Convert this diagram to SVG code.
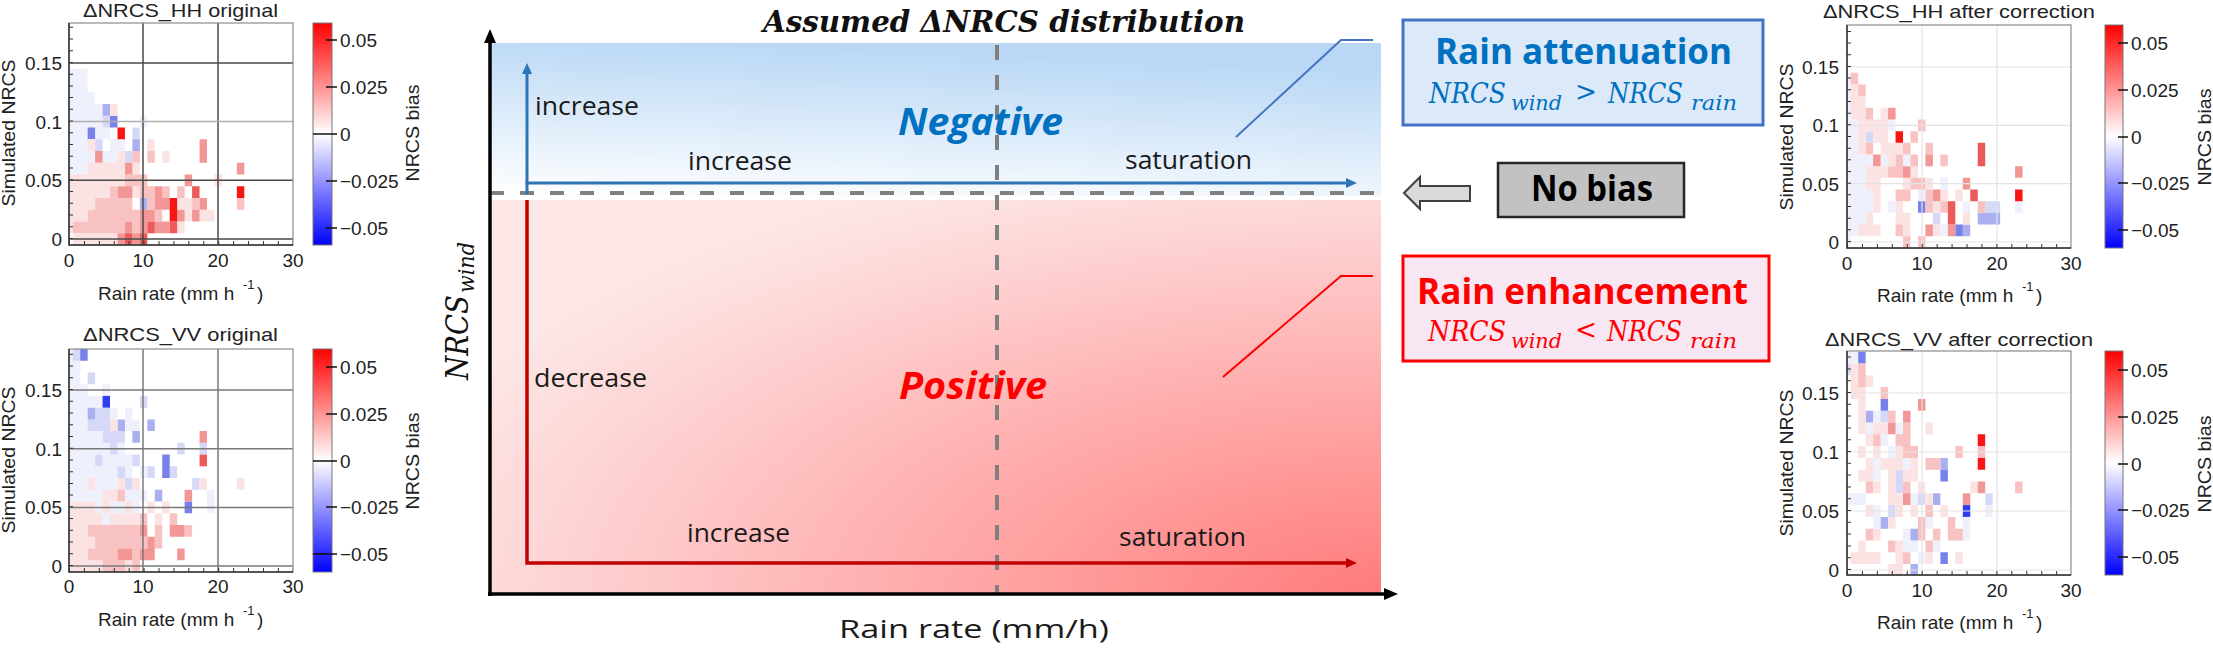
<svg xmlns="http://www.w3.org/2000/svg" width="2213" height="648" viewBox="0 0 2213 648">
<style>
.ax{font-family:"Liberation Sans",Arial,sans-serif;font-size:19px;fill:#222}
.mid{text-anchor:middle}
.end{text-anchor:end}
.r1{fill:#fce3e3}.r2{fill:#f9c2c2}.r3{fill:#f39696}.r4{fill:#ec5a5a}.r5{fill:#fa1515}
.b1{fill:#eef0fc}.b2{fill:#d5d9f7}.b3{fill:#a9afef}.b4{fill:#7880ea}.b5{fill:#2f3cf0}
.gd{stroke:#4a4a4a;stroke-width:1.5;fill:none}
.gm{stroke:#7a7a7a;stroke-width:1.5;fill:none}
.gl{stroke:#b0b0b0;stroke-width:1.5;fill:none}
.gx{stroke:#e3e3e3;stroke-width:1.2;fill:none}
.frame{fill:none;stroke:#8c8c8c;stroke-width:1.2}
.axl{stroke:#333;stroke-width:1.5;fill:none}
.tk{stroke:#333;fill:none;stroke-width:4}
.cb{stroke:#777;stroke-width:1;fill:url(#cbar)}
.cbt{stroke:#111;stroke-width:1.5;fill:none}
.lbl{font-family:"Open Sans","Noto Sans",sans-serif;font-size:26px;fill:#1a1a1a}
.big{font-family:"Open Sans","Noto Sans",sans-serif;font-weight:bold;font-style:italic;font-size:38px}
.math{font-family:"DejaVu Serif","Liberation Serif",serif;font-style:italic}
.head{font-family:"Open Sans","Noto Sans",sans-serif;font-weight:bold;font-size:36px}
.axis{stroke:#000;stroke-width:3.5;fill:none}
.dash{stroke:#808080;stroke-width:4;fill:none}
</style>
<defs>
<marker id="mBlack" markerUnits="userSpaceOnUse" viewBox="0 0 14 12" refX="1" refY="6" markerWidth="14" markerHeight="12" orient="auto"><path d="M0 0L14 6L0 12z" fill="#000"/></marker>
<marker id="mBlue" markerUnits="userSpaceOnUse" viewBox="0 0 11 10" refX="1" refY="5" markerWidth="11" markerHeight="10" orient="auto"><path d="M0 0L11 5L0 10z" fill="#2e75b6"/></marker>
<marker id="mRed" markerUnits="userSpaceOnUse" viewBox="0 0 11 10" refX="1" refY="5" markerWidth="11" markerHeight="10" orient="auto"><path d="M0 0L11 5L0 10z" fill="#c00000"/></marker>
<linearGradient id="cbar" x1="0" y1="0" x2="0" y2="1"><stop offset="0" stop-color="#ff0000"/><stop offset="0.5" stop-color="#ffffff"/><stop offset="1" stop-color="#0000ff"/></linearGradient>
<linearGradient id="gBlue" x1="0" y1="1" x2="0.25" y2="0"><stop offset="0" stop-color="#ffffff"/><stop offset="1" stop-color="#bad8f5"/></linearGradient>
<radialGradient id="gRed" cx="1" cy="1" r="1.15" fx="1" fy="1"><stop offset="0" stop-color="#ff7b7b"/><stop offset="0.45" stop-color="#ffabab"/><stop offset="0.85" stop-color="#fdd8d8"/><stop offset="1" stop-color="#fde6e6"/></radialGradient>
<clipPath id="cp1"><rect x="69" y="23" width="224" height="222"/></clipPath>
<clipPath id="cp2"><rect x="69" y="349" width="224" height="223"/></clipPath>
<clipPath id="cp3"><rect x="1847" y="25" width="224" height="223"/></clipPath>
<clipPath id="cp4"><rect x="1847" y="351" width="224" height="224"/></clipPath>
</defs>
<rect width="2213" height="648" fill="#fff"/>

<g id="hh-original">
<g clip-path="url(#cp1)"><g transform="translate(65.27 244.87) scale(7.46 -11.74)">
<path class="b1" d="M0 14h3v1h-3zM0 13h3v1h-3zM0 12h4v1h-4zM0 11h5v1h-5zM0 10h5v1h-5zM10 10h1v1h-1zM0 9h3v1h-3zM4 9h2v1h-2zM0 8h3v1h-3zM6 8h2v1h-2zM0 7h4v1h-4zM5 7h2v1h-2zM0 6h3v1h-3z"/>
<path class="b2" d="M5 10h1v1h-1zM4 8h1v1h-1zM8 7h1v1h-1zM9 9h1v1h-1z"/>
<path class="b3" d="M5 11h1v1h-1zM9 8h1v1h-1zM10 3h1v1h-1z"/>
<path class="b4" d="M6 10h1v1h-1zM3 9h1v1h-1z"/>
<path class="r1" d="M6 11h1v1h-1zM3 8h1v1h-1zM11 8h1v1h-1zM7 7h1v1h-1zM13 7h1v1h-1zM3 6h5v1h-5zM9 6h1v1h-1zM0 5h8v1h-8zM20 5h1v1h-1zM0 4h6v1h-6zM9 4h1v1h-1zM0 3h4v1h-4zM15 3h2v1h-2zM0 2h3v1h-3zM16 2h1v1h-1zM18 2h2v1h-2zM0 1h1v1h-1zM15 1h1v1h-1zM1 0h6v1h-6z"/>
<path class="r2" d="M9 7h1v1h-1zM11 7h1v1h-1zM8 5h3v1h-3zM6 4h1v1h-1zM10 4h2v1h-2zM13 4h1v1h-1zM15 4h1v1h-1zM4 3h5v1h-5zM11 3h1v1h-1zM17 3h1v1h-1zM23 3h1v1h-1zM3 2h7v1h-7zM12 2h1v1h-1zM1 1h7v1h-7zM9 1h1v1h-1z"/>
<path class="r3" d="M18 7h1v2h-1zM4 7h1v1h-1zM8 6h1v1h-1zM23 6h1v1h-1zM16 5h1v1h-1zM7 4h2v1h-2zM12 4h1v1h-1zM12 3h2v1h-2zM18 3h1v1h-1zM10 2h2v1h-2zM15 2h1v1h-1zM17 2h1v1h-1zM8 1h1v1h-1zM10 1h1v1h-1zM12 1h2v1h-2zM7 0h1v1h-1zM9 0h1v1h-1z"/>
<path class="r4" d="M17 4h1v1h-1zM11 1h1v1h-1zM14 1h1v1h-1zM8 0h1v1h-1zM10 0h1v1h-1z"/>
<path class="r5" d="M7 9h1v1h-1zM23 4h1v1h-1zM14 2h1v2h-1z"/>
</g></g>
<path class="gd" d="M69 239H293M69 180.3H293M69 62.9H293M143 23V245M218 23V245"/>
<path class="gl" d="M69 121.6H293"/>
<rect class="frame" x="69" y="23" width="224" height="222"/>
<path class="axl" d="M69 23V245H293"/>
<path class="tk" stroke-dasharray="1 10.74" d="M71 239V23"/>
<path class="tk" stroke-dasharray="1 13.92" d="M69 243H293"/>
<text class="ax" x="83" y="17" font-size="20" textLength="195" lengthAdjust="spacingAndGlyphs">ΔNRCS_HH original</text>
<text class="ax end" x="62" y="70">0.15</text>
<text class="ax end" x="62" y="128.6">0.1</text>
<text class="ax end" x="62" y="187.3">0.05</text>
<text class="ax end" x="62" y="246">0</text>
<text class="ax mid" x="69" y="267">0</text>
<text class="ax mid" x="143" y="267">10</text>
<text class="ax mid" x="218" y="267">20</text>
<text class="ax mid" x="293" y="267">30</text>
<text class="ax" x="98" y="300" font-size="20">Rain rate (mm h<tspan x="243" dy="-11" font-size="13">-1</tspan><tspan x="257" dy="11">)</tspan></text>
<text class="ax mid" transform="translate(15 133) rotate(-90)" font-size="19.5" textLength="147" lengthAdjust="spacingAndGlyphs">Simulated NRCS</text>
<rect class="cb" x="313" y="23" width="19" height="222"/>
<path class="cbt" d="M326 40H337M326 87H337M313 134H337M326 181H337M326 228H337"/>
<text class="ax" x="340" y="47">0.05</text>
<text class="ax" x="340" y="94">0.025</text>
<text class="ax" x="340" y="141">0</text>
<text class="ax" x="340" y="188">−0.025</text>
<text class="ax" x="340" y="235">−0.05</text>
<text class="ax mid" transform="translate(419 133) rotate(-90)" textLength="97" lengthAdjust="spacingAndGlyphs">NRCS bias</text>
</g>

<g id="vv-original">
<g clip-path="url(#cp2)"><g transform="translate(65.27 571.87) scale(7.46 -11.73)">
<path class="b1" d="M0 18h1v1h-1zM0 17h2v1h-2zM0 16h2v1h-2zM0 15h3v1h-3zM5 15h1v1h-1zM0 14h5v1h-5zM0 13h3v1h-3zM6 13h1v1h-1zM8 13h1v1h-1zM0 12h3v1h-3zM8 12h2v1h-2zM0 11h5v1h-5zM0 10h6v1h-6zM7 10h1v1h-1zM0 9h4v1h-4zM5 9h4v1h-4zM0 8h7v1h-7zM8 8h1v1h-1zM10 8h1v1h-1zM0 7h3v1h-3zM4 7h3v1h-3zM0 6h5v1h-5zM8 6h3v1h-3zM19 5h1v2h-1zM4 5h1v1h-1zM6 5h2v1h-2zM9 5h1v1h-1zM5 4h1v1h-1z"/>
<path class="b2" d="M1 18h1v1h-1zM3 16h1v1h-1zM10 14h1v1h-1zM4 13h2v1h-2zM3 12h3v1h-3zM5 11h3v1h-3zM6 10h1v1h-1zM15 10h1v1h-1zM18 10h1v1h-1zM4 9h1v1h-1zM9 9h1v1h-1zM7 8h1v1h-1zM11 8h1v1h-1zM14 8h1v1h-1zM8 7h1v1h-1zM17 7h1v1h-1z"/>
<path class="b3" d="M3 13h1v1h-1zM7 12h1v1h-1zM11 12h1v1h-1zM9 11h1v1h-1zM12 6h1v1h-1z"/>
<path class="b4" d="M2 18h1v1h-1zM13 8h1v2h-1zM16 5h1v1h-1z"/>
<path class="b5" d="M5 14h1v1h-1z"/>
<path class="r1" d="M6 12h1v1h-1zM3 7h1v1h-1zM7 7h1v1h-1zM9 7h1v1h-1zM18 7h1v1h-1zM23 7h1v1h-1zM5 6h2v1h-2zM0 5h4v1h-4zM5 5h1v1h-1zM8 5h1v1h-1zM11 5h1v1h-1zM13 5h1v1h-1zM0 4h5v1h-5zM6 4h4v1h-4zM12 4h1v1h-1zM0 3h3v1h-3zM0 2h4v1h-4zM0 1h3v1h-3zM0 0h5v1h-5zM8 0h1v1h-1z"/>
<path class="r2" d="M7 6h1v1h-1zM10 4h1v1h-1zM14 4h1v1h-1zM3 3h7v1h-7zM12 3h1v1h-1zM16 3h1v1h-1zM4 2h7v1h-7zM12 2h1v1h-1zM3 1h4v1h-4zM9 1h1v1h-1zM5 0h3v1h-3zM9 0h1v1h-1z"/>
<path class="r3" d="M18 11h1v1h-1zM16 6h1v1h-1zM10 3h1v1h-1zM14 3h2v1h-2zM11 2h1v1h-1zM7 1h2v1h-2zM10 1h2v1h-2zM15 1h1v1h-1z"/>
<path class="r4" d="M18 9h1v1h-1z"/>
</g></g>
<path class="gm" d="M69 566H293M69 507.4H293M69 448.7H293M69 390H293M143 349V572M218 349V572"/>
<rect class="frame" x="69" y="349" width="224" height="223"/>
<path class="axl" d="M69 349V572H293"/>
<path class="tk" stroke-dasharray="1 10.73" d="M71 566V349"/>
<path class="tk" stroke-dasharray="1 13.92" d="M69 570H293"/>
<text class="ax" x="83" y="341" font-size="20" textLength="195" lengthAdjust="spacingAndGlyphs">ΔNRCS_VV original</text>
<text class="ax end" x="62" y="397">0.15</text>
<text class="ax end" x="62" y="455.7">0.1</text>
<text class="ax end" x="62" y="514.4">0.05</text>
<text class="ax end" x="62" y="573">0</text>
<text class="ax mid" x="69" y="593">0</text>
<text class="ax mid" x="143" y="593">10</text>
<text class="ax mid" x="218" y="593">20</text>
<text class="ax mid" x="293" y="593">30</text>
<text class="ax" x="98" y="626" font-size="20">Rain rate (mm h<tspan x="243" dy="-11" font-size="13">-1</tspan><tspan x="257" dy="11">)</tspan></text>
<text class="ax mid" transform="translate(15 460) rotate(-90)" font-size="19.5" textLength="147" lengthAdjust="spacingAndGlyphs">Simulated NRCS</text>
<rect class="cb" x="313" y="349" width="19" height="223"/>
<path class="cbt" d="M326 367H337M326 414H337M313 461H337M326 507H337M313 554H337"/>
<text class="ax" x="340" y="374">0.05</text>
<text class="ax" x="340" y="421">0.025</text>
<text class="ax" x="340" y="468">0</text>
<text class="ax" x="340" y="514">−0.025</text>
<text class="ax" x="340" y="561">−0.05</text>
<text class="ax mid" transform="translate(419 461) rotate(-90)" textLength="97" lengthAdjust="spacingAndGlyphs">NRCS bias</text>
</g>

<g id="main-chart">
<rect x="490" y="43" width="891" height="153" fill="url(#gBlue)"/>
<rect x="490" y="200" width="891" height="394" fill="url(#gRed)"/>
<path class="dash" stroke-dasharray="14 16" d="M490 193H1381"/>
<path class="dash" stroke-dasharray="15 15" d="M997 45V594"/>
<path class="axis" d="M490 596V42" marker-end="url(#mBlack)"/>
<path class="axis" d="M488 594H1385" marker-end="url(#mBlack)"/>
<path d="M527 194V73" stroke="#2e75b6" stroke-width="3" fill="none" marker-end="url(#mBlue)"/>
<path d="M525.5 183H1347" stroke="#2e75b6" stroke-width="3" fill="none" marker-end="url(#mBlue)"/>
<path d="M527 200V563H1347" stroke="#c00000" stroke-width="3.5" fill="none" marker-end="url(#mRed)"/>
<text x="763" y="32" font-family="DejaVu Serif, Liberation Serif, serif" font-weight="bold" font-style="italic" font-size="30" textLength="482" lengthAdjust="spacingAndGlyphs" fill="#111">Assumed ΔNRCS distribution</text>
<text class="lbl" x="535" y="115" textLength="104" lengthAdjust="spacingAndGlyphs">increase</text>
<text class="lbl" x="688" y="170" textLength="104" lengthAdjust="spacingAndGlyphs">increase</text>
<text class="lbl" x="1125" y="169" textLength="127" lengthAdjust="spacingAndGlyphs">saturation</text>
<text class="lbl" x="534" y="387" textLength="113" lengthAdjust="spacingAndGlyphs">decrease</text>
<text class="lbl" x="687" y="542" textLength="103" lengthAdjust="spacingAndGlyphs">increase</text>
<text class="lbl" x="1119" y="546" textLength="127" lengthAdjust="spacingAndGlyphs">saturation</text>
<text class="big" x="898" y="135" fill="#0070c0" textLength="165" lengthAdjust="spacingAndGlyphs">Negative</text>
<text class="big" x="899" y="399" fill="#ff0000" textLength="148" lengthAdjust="spacingAndGlyphs">Positive</text>
<text class="lbl" x="839" y="638" font-size="30" textLength="270" lengthAdjust="spacingAndGlyphs">Rain rate (mm/h)</text>
<text class="math" transform="translate(468 380) rotate(-90)" font-size="32" fill="#111" textLength="85" lengthAdjust="spacingAndGlyphs">NRCS</text>
<text class="math" transform="translate(474 293) rotate(-90)" font-size="22" fill="#111" textLength="51" lengthAdjust="spacingAndGlyphs">wind</text>
</g>

<g id="box-attenuation">
<rect x="1403" y="20" width="360" height="105" fill="#dbe9f8" stroke="#4472c4" stroke-width="3"/>
<text class="head" x="1435" y="64" fill="#0070c0" textLength="297" lengthAdjust="spacingAndGlyphs">Rain attenuation</text>
<text class="math" x="1429" y="103" font-size="27" fill="#0070c0" textLength="77" lengthAdjust="spacingAndGlyphs">NRCS</text>
<text class="math" x="1511" y="110" font-size="20" fill="#0070c0" textLength="51" lengthAdjust="spacingAndGlyphs">wind</text>
<text x="1575" y="101" font-family="DejaVu Serif, serif" font-size="28" fill="#0070c0" textLength="22" lengthAdjust="spacingAndGlyphs">&gt;</text>
<text class="math" x="1608" y="103" font-size="27" fill="#0070c0" textLength="75" lengthAdjust="spacingAndGlyphs">NRCS</text>
<text class="math" x="1691" y="110" font-size="20" fill="#0070c0" textLength="46" lengthAdjust="spacingAndGlyphs">rain</text>
</g>

<g id="box-nobias">
<rect x="1498" y="163" width="186" height="54" fill="#c2c2c2" stroke="#262626" stroke-width="2.5"/>
<text class="head" x="1531" y="201" font-size="32" fill="#000" textLength="122" lengthAdjust="spacingAndGlyphs">No bias</text>
</g>

<g id="box-enhancement">
<rect x="1403" y="256" width="366" height="105" fill="#f8e6f3" stroke="#ff0000" stroke-width="3"/>
<text class="head" x="1417" y="304" fill="#ff0000" textLength="331" lengthAdjust="spacingAndGlyphs">Rain enhancement</text>
<text class="math" x="1428" y="341" font-size="27" fill="#ff0000" textLength="78" lengthAdjust="spacingAndGlyphs">NRCS</text>
<text class="math" x="1511" y="348" font-size="20" fill="#ff0000" textLength="51" lengthAdjust="spacingAndGlyphs">wind</text>
<text x="1575" y="339" font-family="DejaVu Serif, serif" font-size="28" fill="#ff0000" textLength="22" lengthAdjust="spacingAndGlyphs">&lt;</text>
<text class="math" x="1607" y="341" font-size="27" fill="#ff0000" textLength="75" lengthAdjust="spacingAndGlyphs">NRCS</text>
<text class="math" x="1690" y="348" font-size="20" fill="#ff0000" textLength="47" lengthAdjust="spacingAndGlyphs">rain</text>
</g>

<g id="connectors">
<path d="M1236 137L1341 40H1373" stroke="#4472c4" stroke-width="2" fill="none"/>
<path d="M1223 377L1341 276H1373" stroke="#ff0000" stroke-width="2" fill="none"/>
<path d="M1404 193L1420 177V186H1470V201H1420V209Z" fill="#d9d9d9" stroke="#404040" stroke-width="2"/>
</g>

<g id="hh-corrected">
<g clip-path="url(#cp3)"><g transform="translate(1843.27 247.83) scale(7.47 -11.67)">
<path class="b1" d="M0 14h1v1h-1zM0 13h1v1h-1zM0 12h1v1h-1zM0 11h1v1h-1zM0 10h2v1h-2zM6 10h1v1h-1zM0 9h2v1h-2zM0 8h2v1h-2zM0 7h4v1h-4zM5 7h1v1h-1zM8 7h1v1h-1zM0 6h3v1h-3zM0 5h3v1h-3zM13 5h1v1h-1zM0 4h4v1h-4zM10 4h1v1h-1zM0 3h4v1h-4zM6 3h1v1h-1zM16 3h1v1h-1zM23 3h1v1h-1zM0 2h3v1h-3zM0 1h2v1h-2zM13 1h1v1h-1zM0 0h1v1h-1z"/>
<path class="b2" d="M3 9h1v1h-1zM19 3h2v1h-2zM12 2h1v1h-1z"/>
<path class="b3" d="M18 2h3v1h-3zM16 1h1v1h-1z"/>
<path class="b4" d="M10 3h1v1h-1zM15 1h1v1h-1z"/>
<path class="r1" d="M1 13h1v1h-1zM1 12h2v1h-2zM1 11h2v1h-2zM5 11h1v1h-1zM2 10h4v1h-4zM2 9h1v1h-1zM4 9h2v1h-2zM2 8h1v1h-1zM5 8h3v1h-3zM6 7h1v1h-1zM3 6h3v1h-3zM9 6h1v1h-1zM3 5h2v1h-2zM8 5h1v1h-1zM11 5h1v1h-1zM4 4h1v1h-1zM13 4h1v1h-1zM15 4h1v1h-1zM4 3h1v1h-1zM7 3h1v1h-1zM12 3h1v1h-1zM3 2h1v1h-1zM7 2h2v1h-2zM16 2h1v1h-1zM2 1h3v1h-3zM8 1h1v1h-1zM12 1h1v1h-1z"/>
<path class="r2" d="M1 14h1v1h-1zM2 13h1v1h-1zM3 11h1v1h-1zM10 10h1v1h-1zM9 9h1v1h-1zM3 8h1v1h-1zM8 8h1v1h-1zM11 8h1v1h-1zM7 7h1v1h-1zM9 7h1v1h-1zM13 7h1v1h-1zM6 6h2v1h-2zM9 5h2v1h-2zM7 4h2v1h-2zM11 4h1v1h-1zM11 3h1v1h-1zM13 3h1v1h-1zM18 3h1v1h-1zM7 1h1v1h-1zM8 0h1v1h-1zM10 0h1v1h-1z"/>
<path class="r3" d="M6 11h1v1h-1zM4 7h1v1h-1zM11 7h1v1h-1zM8 6h1v1h-1zM23 6h1v1h-1zM16 5h1v1h-1zM12 4h1v1h-1zM11 1h1v1h-1zM14 1h1v1h-1z"/>
<path class="r4" d="M18 7h1v2h-1zM17 4h1v1h-1zM14 2h1v2h-1z"/>
<path class="r5" d="M7 9h1v1h-1zM23 4h1v1h-1z"/>
</g></g>
<path class="gx" d="M1847 242H2071M1847 183.7H2071M1847 125.3H2071M1847 67H2071M1922 25V248M1997 25V248"/>
<rect class="frame" x="1847" y="25" width="224" height="223"/>
<path class="axl" d="M1847 25V248H2071"/>
<path class="tk" stroke-dasharray="1 10.67" d="M1849 242V25"/>
<path class="tk" stroke-dasharray="1 13.94" d="M1847 246H2071"/>
<text class="ax" x="1823" y="18" font-size="20" textLength="272" lengthAdjust="spacingAndGlyphs">ΔNRCS_HH after correction</text>
<text class="ax end" x="1839" y="74">0.15</text>
<text class="ax end" x="1839" y="132.3">0.1</text>
<text class="ax end" x="1839" y="190.7">0.05</text>
<text class="ax end" x="1839" y="249">0</text>
<text class="ax mid" x="1847" y="270">0</text>
<text class="ax mid" x="1922" y="270">10</text>
<text class="ax mid" x="1997" y="270">20</text>
<text class="ax mid" x="2071" y="270">30</text>
<text class="ax" x="1877" y="302" font-size="20">Rain rate (mm h<tspan x="2022" dy="-11" font-size="13">-1</tspan><tspan x="2036" dy="11">)</tspan></text>
<text class="ax mid" transform="translate(1793 137) rotate(-90)" font-size="19.5" textLength="147" lengthAdjust="spacingAndGlyphs">Simulated NRCS</text>
<rect class="cb" x="2105" y="25" width="18" height="223"/>
<path class="cbt" d="M2118 43H2128M2118 90H2128M2118 137H2128M2118 183H2128M2118 230H2128"/>
<text class="ax" x="2131" y="50">0.05</text>
<text class="ax" x="2131" y="97">0.025</text>
<text class="ax" x="2131" y="144">0</text>
<text class="ax" x="2131" y="190">−0.025</text>
<text class="ax" x="2131" y="237">−0.05</text>
<text class="ax mid" transform="translate(2211 137) rotate(-90)" textLength="97" lengthAdjust="spacingAndGlyphs">NRCS bias</text>
</g>

<g id="vv-corrected">
<g clip-path="url(#cp4)"><g transform="translate(1843.27 575.9) scale(7.47 -11.8)">
<path class="b1" d="M0 18h2v1h-2zM0 6h3v1h-3zM4 13h1v1h-1zM3 12h1v1h-1zM7 12h1v1h-1zM5 11h1v1h-1zM6 10h1v1h-1zM4 9h1v1h-1zM8 9h1v1h-1zM4 8h1v1h-1zM9 6h1v1h-1zM4 5h1v1h-1zM19 5h1v1h-1zM4 4h1v1h-1zM11 4h1v1h-1zM16 3h1v2h-1zM8 3h1v1h-1zM8 2h2v1h-2zM12 2h1v1h-1zM10 1h1v1h-1z"/>
<path class="b2" d="M0 17h1v1h-1zM5 13h1v1h-1zM7 7h1v2h-1zM10 6h1v1h-1zM19 6h1v1h-1zM6 5h1v1h-1z"/>
<path class="b3" d="M3 13h1v1h-1zM13 9h1v1h-1zM12 6h1v1h-1zM5 4h1v1h-1zM9 3h1v1h-1zM9 0h1v1h-1z"/>
<path class="b4" d="M2 18h1v1h-1zM5 14h1v1h-1zM13 8h1v1h-1zM13 1h1v1h-1z"/>
<path class="b5" d="M16 5h1v1h-1z"/>
<path class="r1" d="M1 17h1v1h-1zM1 16h1v1h-1zM3 16h1v1h-1zM1 15h2v1h-2zM2 14h1v1h-1zM2 13h1v1h-1zM2 12h1v1h-1zM4 12h2v1h-2zM11 12h1v1h-1zM3 11h1v1h-1zM2 10h1v1h-1zM4 10h1v1h-1zM7 10h1v1h-1zM3 9h1v1h-1zM5 9h3v1h-3zM9 9h1v1h-1zM2 8h2v1h-2zM6 8h1v1h-1zM8 8h2v1h-2zM4 7h1v1h-1zM6 7h1v1h-1zM10 7h1v1h-1zM17 7h1v1h-1zM6 6h2v1h-2zM11 6h1v1h-1zM3 5h1v1h-1zM7 5h1v1h-1zM9 5h1v1h-1zM13 5h1v1h-1zM6 4h1v1h-1zM4 3h1v1h-1zM2 2h1v1h-1zM7 2h1v1h-1zM1 1h4v1h-4zM7 1h1v1h-1zM11 1h1v1h-1zM15 1h1v1h-1zM6 0h2v1h-2z"/>
<path class="r2" d="M2 17h1v1h-1zM2 16h1v1h-1zM5 15h1v1h-1zM6 13h1v1h-1zM8 12h1v1h-1zM4 11h1v1h-1zM7 11h2v1h-2zM8 10h2v1h-2zM15 10h1v1h-1zM18 10h1v1h-1zM11 9h2v1h-2zM3 7h1v1h-1zM8 7h1v1h-1zM23 7h1v1h-1zM11 5h1v1h-1zM10 4h1v1h-1zM14 4h1v1h-1zM3 3h1v1h-1zM10 3h1v1h-1zM12 3h1v1h-1zM14 3h2v1h-2zM6 2h1v1h-1zM11 2h1v1h-1zM8 1h1v1h-1z"/>
<path class="r3" d="M10 14h1v1h-1zM8 13h1v1h-1zM6 12h1v1h-1zM18 7h1v1h-1zM8 6h1v1h-1zM16 6h1v1h-1z"/>
<path class="r5" d="M18 11h1v1h-1zM18 9h1v1h-1z"/>
</g></g>
<path class="gx" d="M1847 570H2071M1847 511H2071M1847 452H2071M1847 393H2071M1922 351V575M1997 351V575"/>
<rect class="frame" x="1847" y="351" width="224" height="224"/>
<path class="axl" d="M1847 351V575H2071"/>
<path class="tk" stroke-dasharray="1 10.8" d="M1849 570V351"/>
<path class="tk" stroke-dasharray="1 13.94" d="M1847 573H2071"/>
<text class="ax" x="1825" y="346" font-size="20" textLength="268" lengthAdjust="spacingAndGlyphs">ΔNRCS_VV after correction</text>
<text class="ax end" x="1839" y="400">0.15</text>
<text class="ax end" x="1839" y="459">0.1</text>
<text class="ax end" x="1839" y="518">0.05</text>
<text class="ax end" x="1839" y="577">0</text>
<text class="ax mid" x="1847" y="597">0</text>
<text class="ax mid" x="1922" y="597">10</text>
<text class="ax mid" x="1997" y="597">20</text>
<text class="ax mid" x="2071" y="597">30</text>
<text class="ax" x="1877" y="629" font-size="20">Rain rate (mm h<tspan x="2022" dy="-11" font-size="13">-1</tspan><tspan x="2036" dy="11">)</tspan></text>
<text class="ax mid" transform="translate(1793 463) rotate(-90)" font-size="19.5" textLength="147" lengthAdjust="spacingAndGlyphs">Simulated NRCS</text>
<rect class="cb" x="2105" y="351" width="18" height="224"/>
<path class="cbt" d="M2118 370H2128M2118 417H2128M2118 464H2128M2118 510H2128M2118 557H2128"/>
<text class="ax" x="2131" y="377">0.05</text>
<text class="ax" x="2131" y="424">0.025</text>
<text class="ax" x="2131" y="471">0</text>
<text class="ax" x="2131" y="517">−0.025</text>
<text class="ax" x="2131" y="564">−0.05</text>
<text class="ax mid" transform="translate(2211 464) rotate(-90)" textLength="97" lengthAdjust="spacingAndGlyphs">NRCS bias</text>
</g>
</svg>
